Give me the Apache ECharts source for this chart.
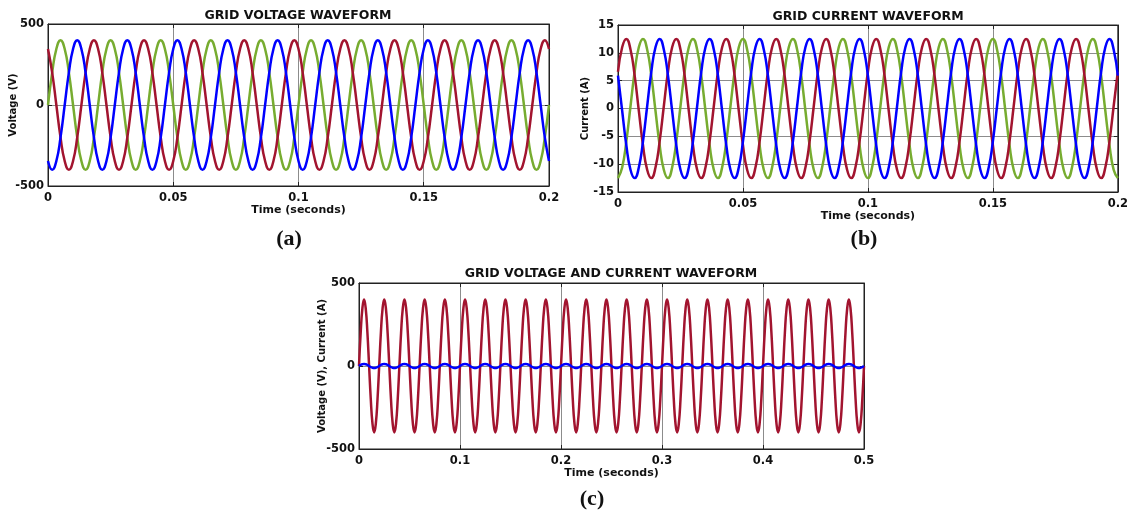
<!DOCTYPE html>
<html>
<head>
<meta charset="utf-8">
<title>Grid voltage and current waveforms</title>
<script src="https://cdn.jsdelivr.net/npm/echarts@6/dist/echarts.min.js"></script>
<style>
  html, body { margin: 0; padding: 0; background: #fff; }
  #main { width: 1131px; height: 513px; }
</style>
</head>
<body>
<div id="main"></div>
<script>
// 50 Hz waveforms: one cycle every 30 degrees,
// repeated for every cycle shown on the time axis
var cycleTime = 0.02;

// (a) grid voltage (V)
var voltGreen = [0, 200, 346, 400, 346, 200, 0, -200, -346, -400, -346, -200];
var voltRed = [346, 200, 0, -200, -346, -400, -346, -200, 0, 200, 346, 400];
var voltBlue = [-346, -400, -346, -200, 0, 200, 346, 400, 346, 200, 0, -200];

// (b) grid current (A)
var currRed = [6.6, 11.0, 12.5, 10.6, 5.9, -0.4, -6.6, -11.0, -12.5, -10.6, -5.9, 0.4];
var currBlue = [5.9, -0.4, -6.6, -11.0, -12.5, -10.6, -5.9, 0.4, 6.6, 11.0, 12.5, 10.6];
var currGreen = [-12.5, -10.6, -5.9, 0.4, 6.6, 11.0, 12.5, 10.6, 5.9, -0.4, -6.6, -11.0];

// (c) one phase: voltage (V) and current (A)
var phaseVolt = [0, 200, 346, 400, 346, 200, 0, -200, -346, -400, -346, -200];
var phaseCurr = [0, 6.3, 10.8, 12.5, 10.8, 6.3, 0, -6.3, -10.8, -12.5, -10.8, -6.3];

// tick values
var timeTicksAB = [0, 0.05, 0.1, 0.15, 0.2];
var timeTicksC = [0, 0.1, 0.2, 0.3, 0.4, 0.5];
var voltTicks = [-500, 0, 500];
var currTicks = [-15, -10, -5, 0, 5, 10, 15];

var RED = '#A2142F', BLUE = '#0000FF', GREEN = '#77AC30';
var FONT = 'DejaVu Sans';

function wave(cycle, tMax) {
    var n = Math.round(tMax / cycleTime);
    var pts = [];
    for (var c = 0; c < n; c++) {
        for (var k = 0; k < cycle.length; k++) {
            pts.push([(c * cycle.length + k) * cycleTime / cycle.length, cycle[k]]);
        }
    }
    pts.push([tMax, cycle[0]]);
    return pts;
}

function xAxes(grid, ticks, nameGap) {
    var base = {
        type: 'value', gridIndex: grid,
        min: ticks[0], max: ticks[ticks.length - 1], interval: ticks[1] - ticks[0],
        axisLine: { show: true, onZero: false, lineStyle: { color: '#222', width: 1 } },
        axisTick: { show: true, inside: true, length: 4, lineStyle: { color: '#222' } }
    };
    var bottom = Object.assign({}, base, {
        position: 'bottom',
        name: 'Time (seconds)', nameLocation: 'middle', nameGap: nameGap,
        nameTextStyle: { fontFamily: FONT, fontWeight: 'bold', fontSize: 11, color: '#111' },
        axisLabel: { fontFamily: FONT, fontWeight: 'bold', fontSize: 11.5, color: '#111', margin: 6 },
        splitLine: { show: true, lineStyle: { color: '#8c8c8c', width: 1 } }
    });
    var top = Object.assign({}, base, {
        position: 'top', axisLabel: { show: false }, splitLine: { show: false }
    });
    return [bottom, top];
}

function yAxes(grid, ticks, name, nameGap) {
    var base = {
        type: 'value', gridIndex: grid,
        min: ticks[0], max: ticks[ticks.length - 1], interval: ticks[1] - ticks[0],
        axisLine: { show: true, onZero: false, lineStyle: { color: '#222', width: 1 } },
        axisTick: { show: true, inside: true, length: 4, lineStyle: { color: '#222' } }
    };
    var left = Object.assign({}, base, {
        position: 'left',
        name: name, nameLocation: 'middle', nameGap: nameGap, nameMoveOverlap: false,
        nameTextStyle: { fontFamily: FONT, fontWeight: 'bold', fontSize: 10, color: '#111' },
        axisLabel: { fontFamily: FONT, fontWeight: 'bold', fontSize: 11.5, color: '#111', margin: 4 },
        splitLine: { show: true, lineStyle: { color: '#8c8c8c', width: 1 } }
    });
    var right = Object.assign({}, base, {
        position: 'right', axisLabel: { show: false }, splitLine: { show: false }
    });
    return [left, right];
}

function line(name, grid, data, color) {
    return {
        name: name, type: 'line',
        xAxisIndex: grid * 2, yAxisIndex: grid * 2,
        data: data, smooth: true, showSymbol: false,
        lineStyle: { color: color, width: 2.5 },
        itemStyle: { color: color },
        animation: false
    };
}

function heading(text, x, y) {
    return {
        text: text, left: x, top: y, textAlign: 'center', padding: 0,
        textStyle: { fontFamily: FONT, fontWeight: 'bold', fontSize: 12.5, color: '#111' }
    };
}

function panelTag(text, x, y) {
    return {
        text: text, left: x, top: y, textAlign: 'center', padding: 0,
        textStyle: { fontFamily: 'Liberation Serif', fontWeight: 'bold', fontSize: 22, color: '#111' }
    };
}

var chart = echarts.init(document.getElementById('main'));

var option = {
    backgroundColor: '#fff',
    title: [
        heading('GRID VOLTAGE WAVEFORM', 298, 9),
        heading('GRID CURRENT WAVEFORM', 868, 10),
        heading('GRID VOLTAGE AND CURRENT WAVEFORM', 611, 267),
        panelTag('(a)', 289, 228),
        panelTag('(b)', 864, 228),
        panelTag('(c)', 592, 488)
    ],
    grid: [
        { left: 48, top: 24, width: 501, height: 162, show: true, borderColor: '#222', borderWidth: 1 },
        { left: 618, top: 25, width: 500, height: 167, show: true, borderColor: '#222', borderWidth: 1 },
        { left: 359, top: 283, width: 505, height: 166, show: true, borderColor: '#222', borderWidth: 1 }
    ],
    xAxis: [].concat(
        xAxes(0, timeTicksAB, 19),
        xAxes(1, timeTicksAB, 18),
        xAxes(2, timeTicksC, 19)
    ),
    yAxis: [].concat(
        yAxes(0, voltTicks, 'Voltage (V)', 30),
        yAxes(1, currTicks, 'Current (A)', 28),
        yAxes(2, voltTicks, 'Voltage (V), Current (A)', 32)
    ),
    series: [
        line('Va green', 0, wave(voltGreen, 0.2), GREEN),
        line('Va red', 0, wave(voltRed, 0.2), RED),
        line('Va blue', 0, wave(voltBlue, 0.2), BLUE),
        line('Ia green', 1, wave(currGreen, 0.2), GREEN),
        line('Ia red', 1, wave(currRed, 0.2), RED),
        line('Ia blue', 1, wave(currBlue, 0.2), BLUE),
        line('Voltage', 2, wave(phaseVolt, 0.5), RED),
        line('Current', 2, wave(phaseCurr, 0.5), BLUE)
    ]
};

chart.setOption(option);
</script>
</body>
</html>
